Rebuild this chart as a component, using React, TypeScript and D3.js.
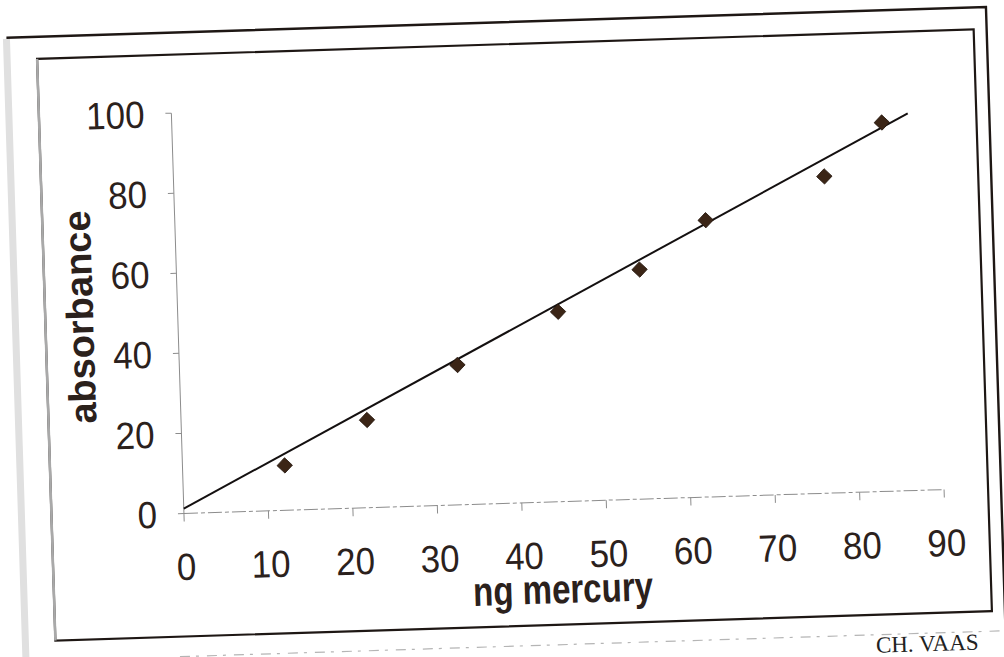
import React from "react";
import * as d3 from "d3";

// ---- data ----
const massNg = [12.1, 22.0, 32.9, 45.0, 54.8, 62.8, 77.0, 84.0];
const absorbanceVals = [11.2, 21.9, 34.9, 47.4, 57.3, 69.1, 79.1, 92.1];
const trendX = [0, 87.1];
const trendY = [1.2, 94.2];
const xTicks = [0, 10, 20, 30, 40, 50, 60, 70, 80, 90];
const yTicks = [0, 20, 40, 60, 80, 100];
const xTitle = "ng mercury";
const yTitle = "absorbance";
const caption = "CH. VAAS";

const W = 1004;
const H = 657;
const INK = "#2b211c";
const AXIS = "#8c8c8c";
const MARK = "#3b2516";
const SANS = "'Liberation Sans', Arial, sans-serif";

export default function App() {
  const x = d3.scaleLinear().domain([0, 90]).range([178.5, 939]);
  const y = d3.scaleLinear().domain([0, 100]).range([503, 102.5]);

  const pts = massNg.map((v, i) => ({ x: v, y: absorbanceVals[i] }));
  const trend = trendX.map((v, i) => ({ x: v, y: trendY[i] }));
  const line = d3
    .line<{ x: number; y: number }>()
    .x((d) => x(d.x))
    .y((d) => y(d.y));
  const diamond = d3.symbol().type(d3.symbolSquare).size(118)() as string;

  return (
    <svg
      width={W}
      height={H}
      viewBox={`0 0 ${W} ${H}`}
      style={{ position: "fixed", left: 0, top: 0, background: "#ffffff" }}
    >
      <rect x={0} y={0} width={W} height={H} fill="#ffffff" />
      <g transform="rotate(-1.8 514.5 334.75)">
        {/* scan edge strip */}
        <line x1={16} x2={16} y1={23} y2={720} stroke="#e0e0e0" strokeWidth={7} />
        {/* outer frame */}
        <path d="M16,22 L996,22 L996,646" fill="none" stroke="#1e1714" strokeWidth={2.4} />
        <line x1={170} x2={996} y1={646} y2={646} stroke="#b5b5b5" strokeWidth={1.2} strokeDasharray="10 6 3 8" />
        {/* inner frame */}
        <rect x={46} y={44} width={937} height={582} fill="none" stroke="#1e1714" strokeWidth={2.2} />
        <line x1={46} x2={46} y1={44} y2={626} stroke="#a9a9a9" strokeWidth={2.5} />

        {/* axes */}
        <line x1={x(0)} x2={x(0)} y1={y(0)} y2={y(100)} stroke={AXIS} strokeWidth={1} />
        <line x1={x(0)} x2={x(90)} y1={y(0)} y2={y(0)} stroke={AXIS} strokeWidth={1} strokeDasharray="14 3 4 3" />
        {yTicks.map((t) => (
          <g key={"yt" + t}>
            <line x1={x(0) - 6} x2={x(0)} y1={y(t)} y2={y(t)} stroke={AXIS} strokeWidth={1} />
            <g transform={`translate(151.5 ${y(t)}) scale(0.92 1)`}>
              <text dy="0.36em" textAnchor="end" fontFamily={SANS} fontSize={38} fill={INK}>
                {t}
              </text>
            </g>
          </g>
        ))}
        {xTicks.map((t) => (
          <g key={"xt" + t}>
            <line x1={x(t)} x2={x(t)} y1={y(0)} y2={y(0) + 8} stroke={AXIS} strokeWidth={1} />
            <g transform={`translate(${x(t) + 1} ${y(0) + 66.5}) scale(0.92 1)`}>
              <text textAnchor="middle" fontFamily={SANS} fontSize={38} fill={INK}>
                {t}
              </text>
            </g>
          </g>
        ))}

        {/* titles */}
        <text
          x={555}
          y={604.5}
          textAnchor="middle"
          fontFamily={SANS}
          fontWeight="bold"
          fontSize={41}
          textLength={180}
          lengthAdjust="spacingAndGlyphs"
          fill={INK}
        >
          {xTitle}
        </text>
        <text
          transform="translate(93.8 303.5) rotate(-90)"
          textAnchor="middle"
          fontFamily={SANS}
          fontWeight="bold"
          fontSize={38}
          fill={INK}
        >
          {yTitle}
        </text>

        {/* trend line */}
        <path d={line(trend) || ""} fill="none" stroke="#141010" strokeWidth={2} />

        {/* markers */}
        {pts.map((p, i) => (
          <path
            key={"p" + i}
            d={diamond}
            transform={`translate(${x(p.x)} ${y(p.y)}) rotate(45)`}
            fill={MARK}
            stroke="#23150c"
            strokeWidth={0.8}
          />
        ))}

        {/* caption below the figure */}
        <text
          x={866}
          y={664}
          fontFamily="'Liberation Serif', 'Times New Roman', serif"
          fontSize={23}
          fill="#222"
        >
          {caption}
        </text>
      </g>
    </svg>
  );
}
